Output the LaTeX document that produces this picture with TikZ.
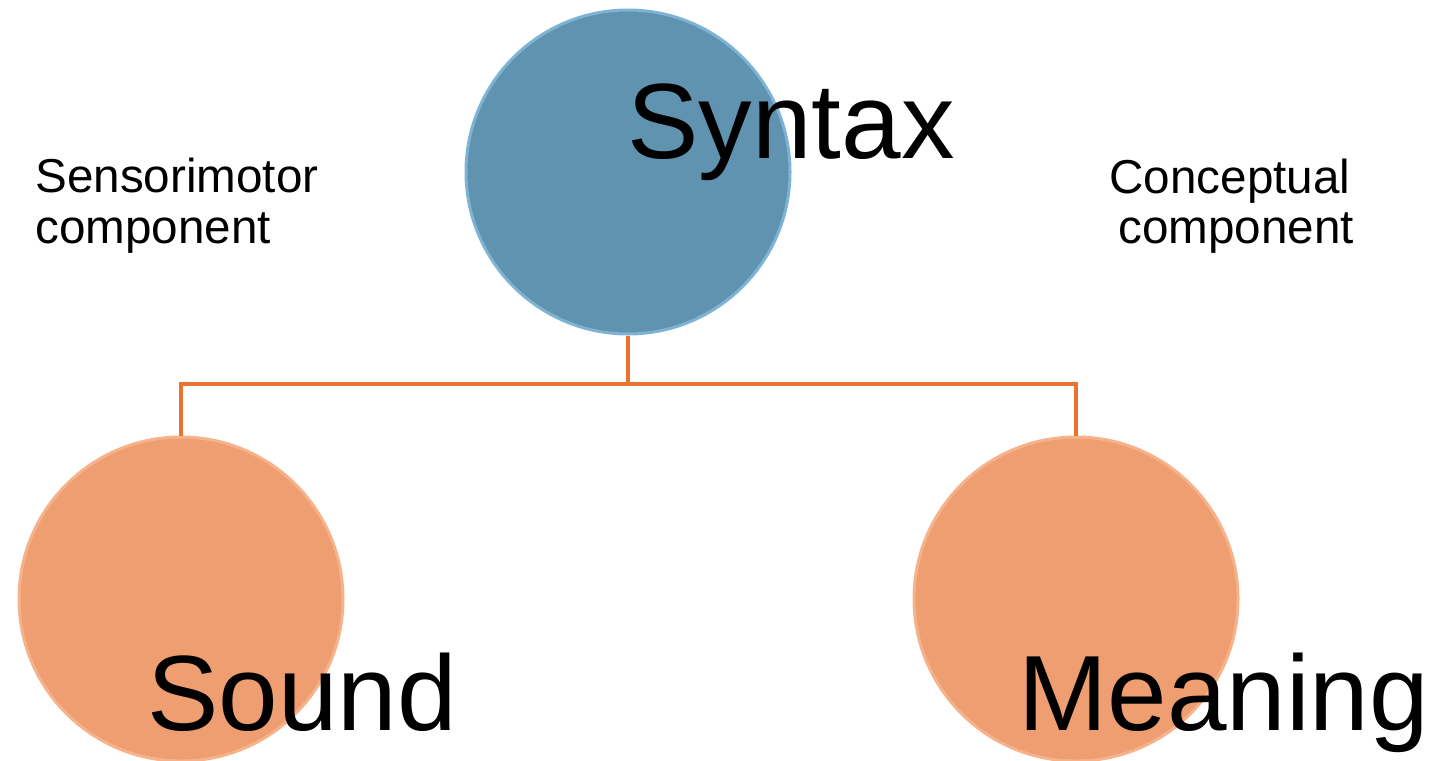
\documentclass[tikz,border=0pt]{standalone}
\usepackage{fontspec}
\setmainfont{Liberation Sans}
\definecolor{synblue}{HTML}{5F93B0}
\definecolor{synrim}{HTML}{7FB3D3}
\definecolor{sndorange}{HTML}{EE9E70}
\definecolor{sndrim}{HTML}{F6B28A}
\definecolor{linkorange}{HTML}{E8742F}
\begin{document}
\begin{tikzpicture}[x=0.5pt,y=-0.5pt,
  bigtext/.style={inner sep=0pt,anchor=base west,font=\fontsize{53.5}{60}\selectfont},
  smalltext/.style={inner sep=0pt,font=\fontsize{23.8}{28}\selectfont},
  blueball/.style={circle,minimum size=162pt,inner sep=0pt,fill=synblue,draw=synrim,line width=1.5pt},
  orangeball/.style={circle,minimum size=162pt,inner sep=0pt,fill=sndorange,draw=sndrim,line width=1.5pt},
  link/.style={draw=linkorange,line width=2pt}]
\useasboundingbox (0,0) rectangle (1443,760);
\node[blueball] (syn) at (628,172) {};
\node[orangeball] (snd) at (181,599) {};
\node[orangeball] (mea) at (1076,599) {};
\coordinate (mid) at (628,384);
\draw[link] (syn.south) -- (mid) -| (snd.north);
\draw[link] (mid) -| (mea.north);
\node[bigtext] (syntxt) at (627,158) {Syntax};
\node[bigtext] (sndtxt) at (147,730) {Sound};
\node[bigtext] (meatxt) at (1018,730) {Meaning};
\node[smalltext,anchor=base west] (sm1) at (35,192) {Sensorimotor};
\node[smalltext,anchor=base west] (sm2) at (35,243) {component};
\node[smalltext,anchor=base] (cc1) at (1230,193) {Conceptual};
\node[smalltext,anchor=base] (cc2) at (1236,243) {component};
\end{tikzpicture}
\end{document}
